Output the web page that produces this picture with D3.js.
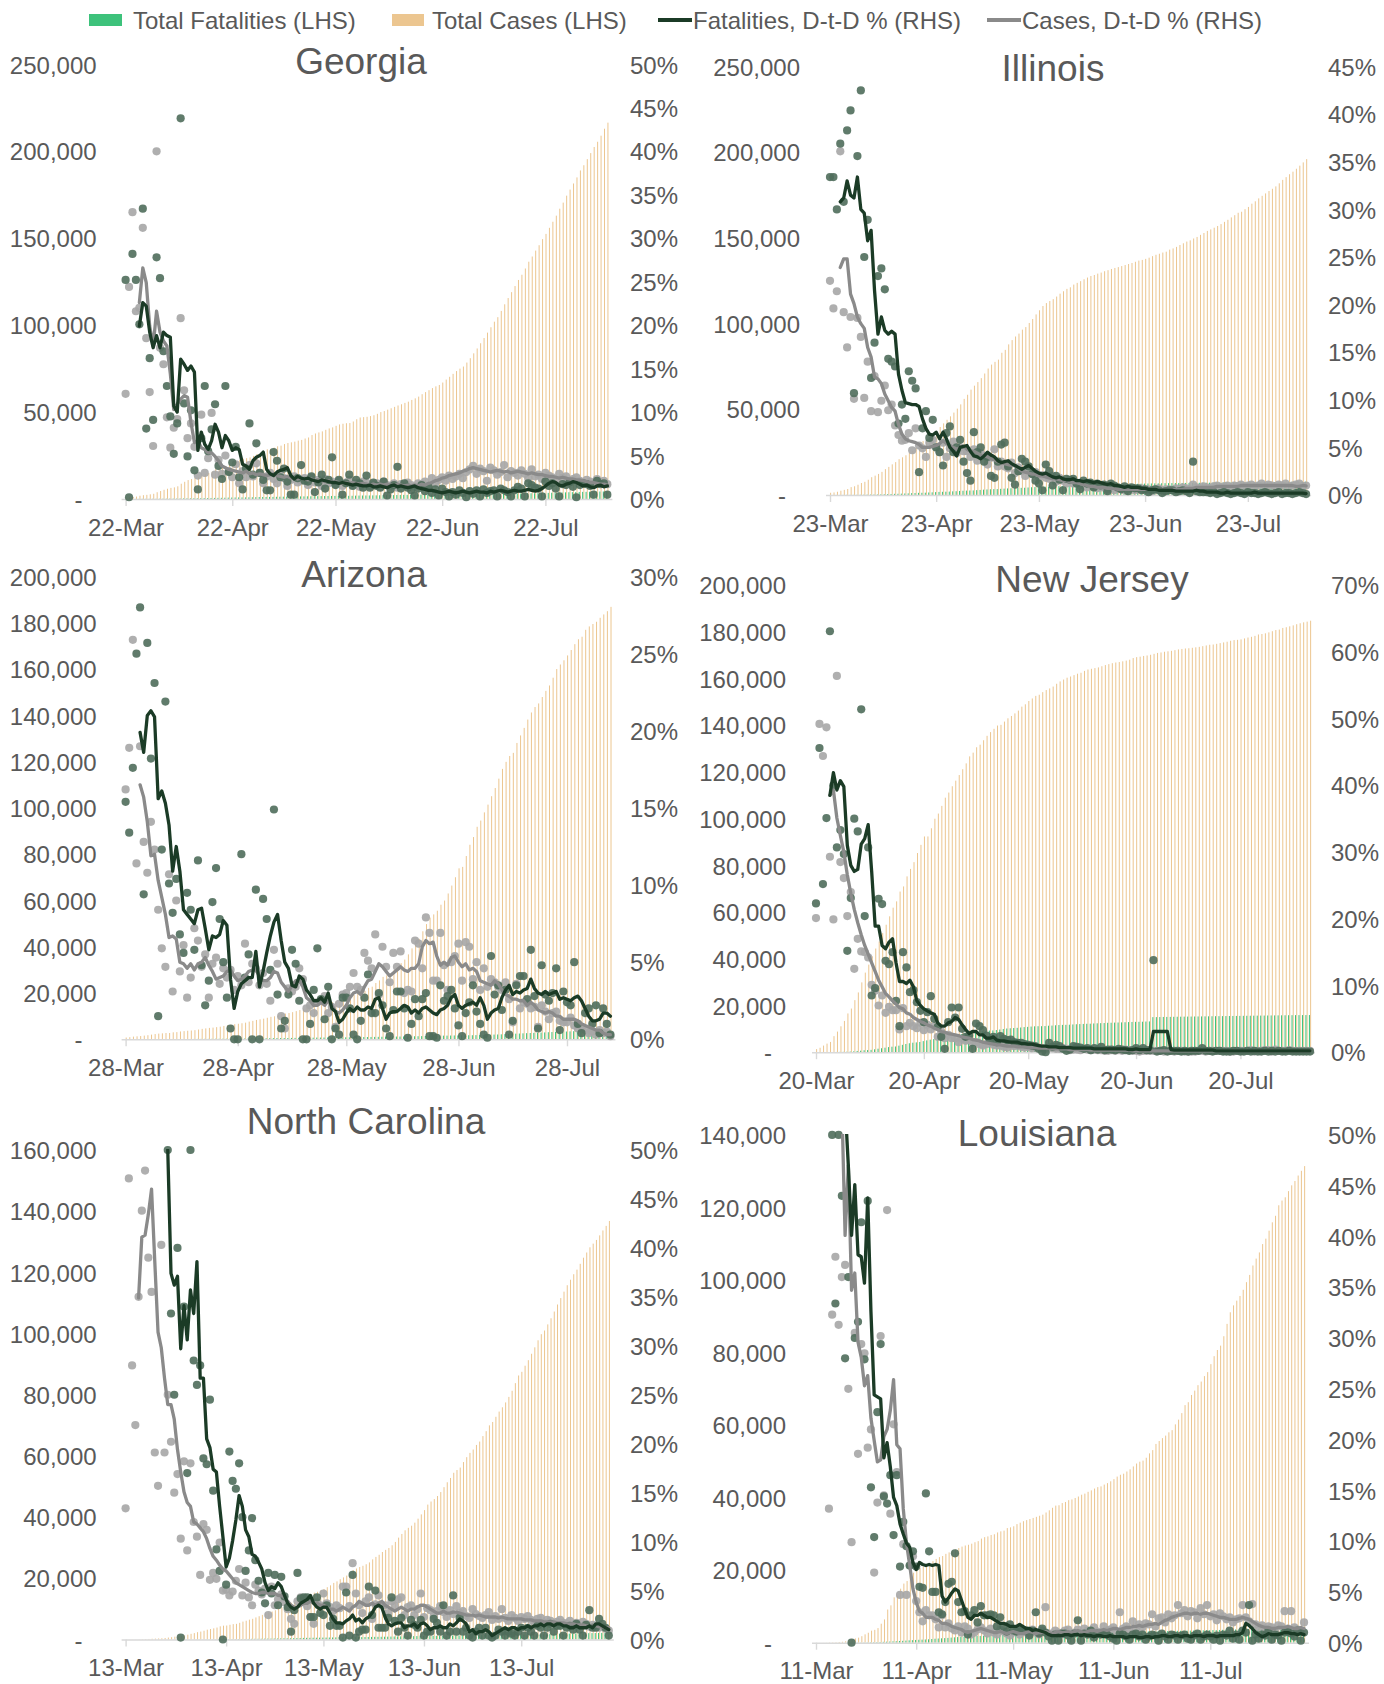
<!DOCTYPE html>
<html><head><meta charset="utf-8">
<script src="https://cdn.jsdelivr.net/npm/d3@7"></script>
<style>
body{margin:0;background:#fff;}
svg{display:block;}
</style></head>
<body><svg id="chart" width="1384" height="1684"></svg>
<script>
// ---------------- DATA ----------------
const STATES = ["Georgia","Illinois","Arizona","New Jersey","North Carolina","Louisiana"];
const START = ["2020-03-22","2020-03-23","2020-03-28","2020-03-20","2020-03-13","2020-03-11"];
const LEFT_TICKS = [
  [0,50000,100000,150000,200000,250000],
  [0,50000,100000,150000,200000,250000],
  [0,20000,40000,60000,80000,100000,120000,140000,160000,180000,200000],
  [0,20000,40000,60000,80000,100000,120000,140000,160000,180000,200000],
  [0,20000,40000,60000,80000,100000,120000,140000,160000],
  [0,20000,40000,60000,80000,100000,120000,140000]
];
const RIGHT_TICKS = [
  [0,5,10,15,20,25,30,35,40,45,50],
  [0,5,10,15,20,25,30,35,40,45],
  [0,5,10,15,20,25,30],
  [0,10,20,30,40,50,60,70],
  [0,5,10,15,20,25,30,35,40,45,50],
  [0,5,10,15,20,25,30,35,40,45,50]
];
const X_TICKS = [
  ["22-Mar","22-Apr","22-May","22-Jun","22-Jul"],
  ["23-Mar","23-Apr","23-May","23-Jun","23-Jul"],
  ["28-Mar","28-Apr","28-May","28-Jun","28-Jul"],
  ["20-Mar","20-Apr","20-May","20-Jun","20-Jul"],
  ["13-Mar","13-Apr","13-May","13-Jun","13-Jul"],
  ["11-Mar","11-Apr","11-May","11-Jun","11-Jul"]
];
const LEGEND = ["Total Fatalities (LHS)","Total Cases (LHS)","Fatalities, D-t-D % (RHS)","Cases, D-t-D % (RHS)"];

// Georgia (thousands / percent)
const gaCases = [0.8,1.0,1.2,1.4,1.9,2.2,2.4,2.7,3.0,3.9, 4.6,5.3,5.9,6.4,6.7,7.3,8.8,9.9,10.9,11.5, 12.2,12.5,13.3,14.2,15.0,15.7,17.2,17.8,18.3,19.0, 19.9,21.1,21.9,22.5,23.2,23.5,23.9,24.8,25.8,26.3, 27.6,28.6,28.8,29.6,30.3,30.7,31.6,32.2,32.6,33.0, 33.6,34.0,34.8,35.4,36.8,37.7,38.3,38.9,39.8,40.6, 41.2,42.1,42.9,43.3,43.6,43.7,44.6,45.9,46.9,47.1, 47.3,47.7,48.2,49.0,50.0,50.6,51.4,52.2,53.0,53.8, 54.5,55.3,56.0,57.0,57.9,58.9,60.3,61.5,62.6,63.8, 64.8,65.6,67.0,68.7,70.3,72.0,73.6,75.0,76.2,78.5, 81.0,83.8,86.6,89.6,92.6,95.7,98.8,102.0,104.6,108.2, 112.0,115.6,119.0,122.5,126.0,129.0,132.6,136.5,139.5,142.9, 146.0,149.5,152.5,156.0,159.5,163.0,167.0,170.5,174.5,178.0, 181.5,185.0,189.0,192.0,195.5,199.0,202.5,205.5,209.0,213.0, 216.5];
const gaDeaths = [0.03,0.03,0.04,0.05,0.06,0.08,0.08,0.09,0.10,0.11, 0.14,0.16,0.18,0.20,0.21,0.23,0.29,0.33,0.37,0.41, 0.43,0.45,0.47,0.52,0.56,0.59,0.62,0.66,0.68,0.73, 0.80,0.83,0.87,0.90,0.91,0.93,0.96,1.00,1.04,1.15, 1.16,1.18,1.19,1.21,1.26,1.31,1.33,1.38,1.40,1.41, 1.44,1.49,1.51,1.55,1.57,1.61,1.64,1.67,1.69,1.72, 1.75,1.78,1.80,1.81,1.82,1.83,1.85,1.93,1.97,2.01, 2.03,2.05,2.08,2.11,2.15,2.19,2.21,2.22,2.25,2.30, 2.34,2.37,2.40,2.43,2.45,2.48,2.50,2.52,2.55,2.58, 2.60,2.62,2.65,2.66,2.68,2.70,2.72,2.74,2.76,2.78, 2.80,2.81,2.83,2.86,2.87,2.89,2.91,2.93,2.95,2.99, 3.02,3.05,3.09,3.12,3.15,3.18,3.22,3.26,3.29,3.33, 3.37,3.42,3.48,3.53,3.60,3.67,3.72,3.78,3.84,3.90, 3.95,4.00,4.05,4.10,4.14,4.18,4.22,4.26,4.30,4.34, 4.38];
const gaFatPct = [25.2,0.2,28.2,25.2,20.1,33.4,8.1,16.2,9.1,27.8, 25.4,17.0,13.0,9.5,5.2,8.7,43.8,11.0,4.9,10.2, 3.3,1.1,7.0,13.0,5.5,8.0,10.9,3.8,2.3,13.0, 3.1,4.2,6.0,2.5,1.1,3.5,8.7,2.8,6.4,3.0, 2.2,1.0,1.0,5.4,4.4,2.5,3.5,2.0,0.5,0.5, 2.4,3.9,2.1,2.0,2.6,0.8,1.9,2.8,1.2,2.2, 4.8,1.6,2.2,0.5,1.8,2.8,1.5,2.2,1.8,1.3, 2.7,1.3,1.9,1.5,1.3,2.0,0.4,1.1,1.6,3.7, 1.2,1.8,1.3,1.0,0.4,1.2,1.6,0.9,1.4,0.7, 1.1,0.4,1.2,0.8,0.3,0.8,0.5,1.0,0.7,0.2, 0.9,0.6,1.0,0.3,1.1,0.7,0.9,1.0,0.3,1.2, 1.0,0.8,0.3,1.0,1.4,1.2,0.3,1.8,1.6,1.3, 1.2,0.3,2.0,1.5,1.8,1.2,0.3,1.7,1.6,1.9, 1.4,0.2,1.6,1.8,1.7,1.5,0.5,2.1,1.7,1.8, 0.5];
const gaCasePct = [12.1,24.4,33.0,21.6,22.0,31.2,18.5,12.3,6.1,40.0, 17.4,15.5,9.4,5.9,8.2,9.2,20.8,12.5,7.0,8.7, 6.0,2.7,9.7,3.0,4.7,9.9,2.8,4.5,2.9,5.0, 3.2,2.5,4.0,1.8,3.2,2.5,3.9,2.6,4.1,3.0, 1.8,2.6,3.0,2.3,1.8,2.8,2.4,1.5,2.2,2.6, 1.9,2.1,2.4,1.6,2.5,1.9,2.2,1.5,2.3,1.8, 2.0,1.7,2.1,1.5,1.9,2.2,1.6,1.8,1.4,2.0, 1.9,1.5,1.7,1.8,1.4,2.0,1.6,1.5,1.8,1.3, 1.7,1.5,1.9,1.6,1.4,1.8,1.7,2.0,1.5,2.4, 1.8,2.2,2.5,2.1,2.7,2.3,2.6,2.9,2.4,3.1, 3.4,3.8,2.9,3.5,3.2,2.1,3.6,3.3,2.8,3.1, 3.9,2.5,3.2,3.0,2.7,3.3,2.9,2.4,3.4,2.6, 2.8,2.3,3.0,2.7,2.5,2.2,2.9,2.4,2.6,2.0, 2.3,2.5,2.1,1.9,2.2,2.0,1.8,2.3,1.9,2.1, 1.7];
const gaFatAvg = [null,null,null,null, 19.9,22.6,22.2,19.2,17.4,18.8,17.4,19.2,18.8,18.6, 10.7,10.0,16.1,15.5,14.8,15.3,14.6,5.6,7.7,6.3, 5.7,6.7,8.6,7.7,5.9,7.3,6.7,5.6,5.9,5.7, 4.0,3.8,3.4,4.4,4.8,5.0,5.4,3.4,2.9,2.7, 3.1,3.3,3.4,3.6,2.7,2.3, 2.6,2.4,2.3,2.4,2.2,2.1,2.0,2.2,2.1,2.0, 1.9,1.9,1.8,1.9,1.8,1.7,1.6,1.7,1.6,1.5, 1.5,1.6,1.4,1.4,1.5,1.4,1.3,1.5,1.6,1.4, 1.5,1.4,1.3,1.4,1.5,1.3,1.2,1.1,1.0,1.0, 0.9,0.8,0.7,0.8,0.9,0.8,0.7,0.8,0.9,0.8, 0.7,0.8,0.9,0.8,0.8,0.7,0.9,0.8,0.9,1.0, 0.9,0.8,0.9,1.0,0.9,0.9,1.0,1.1,1.0,0.9, 1.0,1.2,1.5,1.8,2.0,1.9,1.6,1.5,1.7,1.8, 2.0,1.9,1.7,1.5,1.6,1.4,1.3,1.5,1.6,1.4,1.5];
const gaCaseAvg = [null,null,null,null, 22.6,26.6,24.9,19.9,17.6,21.6,19.2,18.2,17.6,14.4, 10.3,10.9,11.5,11.9,11.7,8.8,6.5,6.7,5.9,5.7, 5.3,5.3,4.9,4.4,3.8,3.6,3.4,3.3,3.2,3.1, 3.0,3.2,2.9,3.0,2.8,2.9,2.8,2.7,2.8,2.9, 2.7,2.6,2.5,2.6,2.4,2.5,2.3,2.4,2.3,2.2, 2.3,2.1,2.2,2.1,2.0,2.1,1.9,2.0,1.9,1.8, 1.9,1.8,1.9,1.8,1.7,1.8,1.7,1.6,1.7,1.6, 1.7,1.6,1.7,1.6,1.5,1.7,1.6,1.5,1.6,1.5, 1.6,1.5,1.7,1.6,1.8,1.9,2.1,2.2,2.4,2.5, 2.7,2.8,2.9,3.0,3.2,3.3,3.5,3.6,3.5,3.4, 3.3,3.2,3.1,3.2,3.3,3.2,3.1,3.2,3.0,3.1, 3.2,3.1,3.0,2.9,3.0,2.9,2.8,2.8,2.7,2.6, 2.6,2.5,2.4,2.5,2.4,2.3,2.3,2.2,2.2,2.1, 2.0,1.9,1.9,1.8,1.7,1.7,1.6];

// Illinois
const ilCases = [1.3,1.5,1.9,2.5,3.0,3.5,4.6,5.1,6.0,7.0, 7.7,8.9,10.4,11.3,12.3,13.5,15.1,16.4,17.9,19.2, 20.9,22.0,23.2,24.6,25.7,27.6,29.2,31.5,31.9,33.1, 35.1,36.9,39.7,41.8,43.9,45.9,48.1,50.4,52.9,56.1, 58.5,61.5,63.8,65.9,68.2,70.9,73.8,76.1,77.7,79.0, 83.0,84.7,87.9,90.4,92.5,94.2,96.5,98.0,100.4,102.7, 105.4,107.8,110.3,112.0,113.2,114.3,115.8,117.5,118.9,120.3, 121.2,122.8,123.8,124.8,125.9,126.9,127.8,128.4,129.2,129.8, 130.6,131.2,131.9,132.5,133.0,133.6,134.2,134.8,135.4,136.1, 136.8,137.2,137.8,138.5,139.4,140.2,140.8,141.5,142.0,143.2, 143.9,144.8,145.9,146.9,147.9,148.6,149.7,150.6,151.8,152.9, 154.1,155.0,156.0,157.0,158.1,159.4,160.6,162.0,163.3,164.7, 165.3,166.8,168.1,170.0,171.4,173.1,174.6,176.0,177.4,178.7, 180.1,181.9,183.9,185.5,187.2,188.7,190.4,192.2,194.1,196.0];
const ilDeaths = [0.01,0.02,0.03,0.03,0.05,0.07,0.07,0.07,0.10,0.14, 0.16,0.21,0.24,0.27,0.31,0.38,0.46,0.53,0.60,0.68, 0.72,0.79,0.87,0.95,1.07,1.13,1.26,1.29,1.35,1.47, 1.56,1.69,1.80,1.87,1.93,1.98,2.13,2.22,2.36,2.46, 2.56,2.62,2.66,2.84,2.97,3.11,3.24,3.35,3.41,3.46, 3.60,3.72,3.83,3.93,4.06,4.13,4.18,4.23,4.38,4.53, 4.61,4.72,4.79,4.86,4.88,4.92,5.08,5.19,5.27,5.33, 5.39,5.41,5.53,5.62,5.74,5.77,5.80,5.83,5.86,5.90, 6.05,6.08,6.20,6.26,6.29,6.32,6.33,6.37,6.40,6.45, 6.55,6.61,6.65,6.70,6.74,6.78,6.81,6.86,6.89,6.92, 6.95,6.99,7.02,7.03,7.05,7.06,7.09,7.12,7.13,7.16, 7.18,7.19,7.20,7.22,7.25,7.27,7.29,7.30,7.33,7.35, 7.37,7.39,7.42,7.44,7.46,7.48,7.50,7.52,7.53,7.55, 7.56,7.58,7.60,7.62,7.63,7.65,7.67,7.69,7.71,7.73];
const ilFatPct = [33.4,33.4,30.0,36.9,30.8,38.3,40.4,10.7,35.6,42.5, 25.0,28.9,12.3,16.0,23.0,23.8,21.6,14.3,14.0,13.5, 7.5,9.5,8.0,13.0,12.0,11.2,2.4,7.0,8.8,6.0, 7.9,5.0,4.5,3.1,6.5,7.2,4.5,5.0,5.8,3.5, 2.3,1.5,6.6,4.5,5.0,3.5,4.0,2.0,1.8,3.5, 5.3,5.5,3.0,1.8,1.1,2.5,3.8,3.5,3.0,2.2, 1.5,1.2,0.5,3.2,2.5,1.0,2.0,1.6,0.5,1.7, 1.6,1.7,1.2,0.6,1.5,1.2,1.3,0.8,1.2,1.0, 1.1,0.4,1.2,1.0,0.8,0.6,0.9,0.4,0.8,0.7, 0.7,0.5,0.6,0.3,0.5,0.6,0.5,0.2,0.4,0.5, 0.5,0.3,0.4,0.5,0.4,0.2,3.5,0.4,0.3,0.3, 0.3,0.2,0.3,0.1,0.2,0.3,0.2,0.1,0.2,0.3, 0.2,0.1,0.3,0.2,0.2,0.1,0.2,0.3,0.2,0.1, 0.2,0.3,0.1,0.2,0.2,0.1,0.2,0.3,0.2,0.1];
const ilCasePct = [22.5,19.6,21.4,36.1,19.2,15.5,18.7,10.1,18.6,16.6, 10.2,14.0,8.8,12.5,8.7,9.9,11.5,8.9,9.5,7.3, 6.3,5.7,5.8,6.5,4.7,7.0,5.2,4.9,4.0,5.5, 5.8,5.0,4.5,5.5,4.0,4.9,5.6,4.4,5.0,4.6, 4.6,4.0,4.8,3.6,4.4,4.1,3.2,3.9,4.8,3.0, 3.5,3.0,2.8,3.4,2.3,2.9,2.5,2.0,2.7,2.2, 2.4,1.9,2.1,1.8,1.7,2.0,1.4,1.8,1.5,1.2, 1.5,1.2,1.3,1.0,1.2,0.8,1.0,0.9,0.7,0.8, 0.8,0.6,0.7,0.5,0.7,0.6,0.5,0.7,0.6,0.5, 0.6,0.7,0.5,0.6,0.4,0.6,0.7,0.5,0.6,0.6, 0.5,0.7,0.6,0.8,0.7,0.6,1.1,0.8,0.7,0.9, 0.8,0.7,0.9,1.0,0.8,0.9,1.0,0.8,1.0,0.9, 1.1,0.9,1.0,1.1,0.9,1.0,1.2,0.9,1.1,1.0, 0.9,1.1,1.0,1.2,0.9,1.0,1.1,1.2,0.9,1.0];
const ilFatAvg = [null,null,null, 30.8,31.2,33.0,31.5,31.2,33.4,30.0,29.6, 26.7,27.8,21.5,16.9,18.7,17.3,16.9,17.2,16.9,12.7, 11.0,9.7,9.6,9.5,9.5,9.3,8.0,7.0,6.4,6.3, 6.6,5.9,6.6,5.9,5.0,4.6,4.1,5.0,5.1,5.2, 4.6,4.1,4.0,3.8,4.1,4.5,4.2,4.0,3.6,3.4, 3.5,3.6,3.3,3.1,2.9,2.7,2.9,3.1,2.8,2.5, 2.3,2.2,2.3,2.1,1.9,1.8,1.9,1.7,1.6,1.6, 1.7,1.5,1.5,1.4,1.5,1.4,1.3,1.4,1.3,1.2, 1.1,1.2,1.0,1.0,0.9,0.8,0.9,0.8,0.8,0.8, 0.7,0.7,0.6,0.6,0.6,0.5,0.5,0.5,0.5,0.5, 0.4,0.4,0.4,0.4,0.4,0.4,0.5,0.4,0.4,0.3, 0.3,0.3,0.3,0.2,0.2,0.3,0.2,0.2,0.2,0.2, 0.2,0.2,0.2,0.3,0.2,0.2,0.2,0.2,0.2,0.2, 0.2,0.2,0.2,0.2,0.2,0.2,0.2,0.2,0.15];
const ilCaseAvg = [null,null,null, 23.9,24.8,24.8,21.1,20.1,18.7,18.0,17.5, 15.5,14.5,12.4,12.2,11.7,10.6,9.9,9.2,8.8,7.4, 6.4,5.9,5.7,5.6,5.5,5.3,5.0,5.0,5.0,5.1, 5.2,5.4,5.7,5.4,5.2,5.0,4.8,5.0,5.1,4.8, 4.6,4.6,4.4,4.2,4.1,4.0,3.8,3.7,3.5,3.4, 3.3,3.2,3.1,3.1,2.8,2.5,2.4,2.3,2.2,2.2, 2.0,2.0,1.9,1.8,1.7,1.7,1.6,1.5,1.5,1.4, 1.3,1.3,1.2,1.1,1.0,0.9,0.9,0.8,0.8,0.8, 0.7,0.7,0.7,0.6,0.6,0.6,0.6,0.6,0.6,0.6, 0.6,0.6,0.6,0.6,0.6,0.6,0.6,0.6,0.6,0.6, 0.6,0.6,0.6,0.7,0.7,0.7,0.8,0.8,0.8,0.8, 0.8,0.8,0.9,0.9,0.9,0.9,0.9,0.9,0.9,1.0, 1.0,1.0,1.0,1.0,1.0,1.0,1.0,1.0,1.0,1.0, 1.0,1.0,1.0,1.0,1.0,0.9,0.9,1.0,0.95];

// Arizona
const azCases = [0.77,0.92,1.16,1.29,1.41,1.60,1.77,2.02,2.27,2.46, 2.58,2.73,2.73,3.02,3.11,3.39,3.54,3.70,3.81,3.96, 4.23,4.51,4.72,4.93,5.06,5.26,5.46,5.77,6.05,6.28, 6.53,6.72,6.95,7.20,7.65,7.96,8.36,8.64,8.92,9.31, 9.71,9.95,10.53,10.96,11.12,11.38,11.74,12.18,12.67,13.17, 13.63,13.94,14.18,14.57,14.90,15.32,15.62,16.04,16.34,16.56, 17.26,17.76,18.47,19.26,19.94,20.12,20.94,22.22,22.75,24.33, 25.45,26.99,27.68,28.30,29.85,31.26,32.92,34.46,36.71,39.30, 40.92,43.44,46.69,49.80,52.59,53.99,55.58,58.18,59.97,63.03, 66.46,70.05,73.91,74.53,79.22,84.09,87.43,91.86,94.55,98.09, 101.44,105.09,108.61,112.67,116.89,119.93,122.47,123.82,128.10,131.35, 134.61,138.21,141.27,143.62,145.18,147.95,150.61,152.94,156.30,160.04, 162.01,163.83,165.93,168.27,170.80,172.92,174.01,177.00,178.47,179.50, 180.48,182.20,183.65,185.05,186.92];
const azDeaths = [0.015,0.017,0.020,0.024,0.029,0.033,0.041,0.052,0.065,0.065, 0.073,0.080,0.089,0.097,0.108,0.115,0.122,0.131,0.142,0.150, 0.169,0.180,0.184,0.189,0.208,0.229,0.231,0.231,0.266,0.273, 0.275,0.275,0.304,0.320,0.330,0.348,0.362,0.395,0.426,0.450, 0.480,0.517,0.532,0.536,0.542,0.562,0.594,0.624,0.651,0.662, 0.679,0.686,0.704,0.747,0.763,0.775,0.800,0.807,0.808,0.821, 0.834,0.859,0.891,0.900,0.917,0.941,0.981,0.996,1.012,1.042, 1.070,1.095,1.101,1.117,1.144,1.186,1.194,1.219,1.242,1.271, 1.312,1.339,1.384,1.424,1.463,1.486,1.490,1.535,1.579,1.594, 1.631,1.670,1.688,1.720,1.720,1.753,1.767,1.809,1.825,1.855, 1.927,1.963,2.038,2.082,2.151,2.245,2.337,2.382,2.434,2.492, 2.575,2.654,2.730,2.784,2.837,2.918,2.974,3.063,3.142,3.209, 3.304,3.306,3.365,3.428,3.499,3.551,3.626,3.694,3.765,3.845, 3.932,3.979,4.002,4.081,4.150];
const azFatPct = [15.4,13.4,17.6,25.0,28.0,9.4,25.7,18.2,23.1,1.5, 12.3,21.9,10.1,8.2,10.4,6.8,5.6,9.5,8.4,5.8, 11.6,4.8,2.2,3.8,8.9,11.1,7.8,5.0,2.7,0.7, 0.0,0.0,12.0,4.0,5.5,0.0,9.7,0.0,9.1,7.8, 4.5,14.9,2.9,0.7,1.2,2.9,5.8,4.9,2.5,0.0, 0.0,1.0,3.2,5.9,2.6,1.3,3.4,0.0,0.7,0.3, 2.7,2.7,2.0,0.3,0.0,1.2,2.7,4.2,1.7,1.7, 3.0,2.2,0.7,0.2,1.9,3.1,3.1,2.0,0.1,1.0, 2.6,1.5,2.6,3.0,0.2,0.2,0.1,3.5,2.5,2.8, 3.2,2.0,0.9,0.2,1.7,2.4,3.5,1.8,1.0,0.3, 0.1,5.4,2.9,3.5,1.9,3.2,0.3,1.2,3.5,4.1, 4.1,2.6,5.8,2.8,0.7,4.8,2.9,2.5,3.0,4.6, 0.6,3.1,2.4,2.2,5.0,1.0,0.4,1.7,2.0,1.0, 2.2,0.4,2.0,1.0,0.3];
const azCasePct = [16.2,18.9,25.9,11.4,19.0,12.8,10.8,14.1,12.3,8.4, 5.9,4.7,10.7,3.1,9.0,4.4,6.1,2.7,4.0,7.2, 6.4,4.7,5.5,2.7,4.9,5.3,3.6,4.6,4.0,4.5, 3.2,4.1,3.5,6.2,3.7,4.9,4.6,3.5,4.3,3.6, 2.5,5.8,4.9,1.5,0.7,3.3,3.1,3.4,4.6,3.9, 2.0,2.2,1.7,2.4,2.5,2.8,1.7,2.1,0.8,2.3, 2.9,3.0,3.4,4.3,3.4,3.2,5.6,5.1,4.6,6.8, 2.9,6.0,4.7,3.7,5.6,4.7,5.7,3.0,3.2,3.1, 6.4,6.2,4.6,7.9,6.9,3.8,3.8,6.9,4.8,3.2, 5.0,5.4,6.2,3.8,6.3,6.0,3.9,5.0,3.2,4.6, 3.4,3.9,3.7,3.4,3.2,3.7,2.6,1.1,3.6,2.0, 2.4,2.3,2.0,2.1,0.8,2.2,1.8,1.3,1.7,1.8, 1.2,1.1,1.1,1.4,0.9,0.7,0.8,0.6,0.4,0.5, 0.3,0.6,0.4,0.5,0.2];
const azFatAvg = [null,null,null,null, 19.9,18.6,21.0,21.3,20.9,15.6,16.1,15.3,13.9,10.9, 12.5,10.9,8.4,8.1,7.8,7.5,8.4,8.5,7.2,5.8, 6.7,6.6,6.8,7.7,7.4,3.9,2.0,3.1,3.6,3.8, 4.0,4.0,5.7,3.4,4.4,5.6,6.7,7.6,8.1,6.4, 5.0,4.6,3.5,3.4,4.1,3.9,3.2,2.9,2.5,2.5, 2.7,2.4,3.0,2.0,1.8,1.1,1.3,1.7,2.0,1.8, 2.1,1.9,1.9,2.1,2.0,2.6,2.7,2.0,1.3,1.7, 1.8,1.8,2.0,2.2,2.1,1.7,1.9,1.7,2.0,2.1, 1.9,1.7,1.6,1.9,2.0,2.2,2.7,2.9,2.2,2.0, 2.2,2.3,2.4,2.2,2.7,2.2,1.3,1.7,1.9,2.0, 2.7,3.2,3.5,2.9,3.1,3.0,3.2,3.3,3.9,3.3, 3.0,2.9,3.1,2.9,3.0,3.1,2.6,2.7,2.6,2.5, 2.7,2.8,2.5,2.0,1.5,1.2,1.2,1.3,1.7,1.7, 1.5];
const azCaseAvg = [null,null,null,null, 16.5,15.7,14.1,11.9,12.0,10.3,9.2,8.1,6.6,6.7, 6.5,5.0,4.9,4.6,4.9,4.5,4.9,5.0,5.3,4.8, 4.4,3.9,4.0,4.1,4.4,4.5,4.1,3.8,3.9,4.1, 4.4,4.5,4.5,4.1,3.8,3.8,4.0,4.4,4.3,3.7, 3.4,3.1,3.5,3.8,3.8,3.4,2.7,2.5,2.2,2.2, 2.4,2.2,2.5,2.2,1.8,1.7,1.9,2.2,2.7,3.0, 3.1,2.9,3.4,3.8,3.9,4.4,4.9,4.7,4.4,4.1, 4.3,4.5,4.7,4.5,4.4,4.6,4.6,4.9,6.0,6.4, 6.2,6.3,5.4,4.8,5.0,4.8,5.3,5.4,5.0,4.7, 4.9,4.5,4.6,4.4,3.8,3.7,3.6,3.5,3.8,3.6, 3.2,2.9,2.8,2.6,2.6,2.5,2.5,2.2,2.4,2.2, 1.9,1.8,1.7,1.8,1.7,1.5,1.5,1.3,1.3,1.3, 1.3,1.2,1.0,0.9,0.8,0.7,0.6,0.6,0.4,0.3, 0.3];

// New Jersey
const njCases = [1.33,1.91,2.84,3.68,4.40,6.88,8.83,11.1,13.4,16.6, 18.7,22.3,25.6,29.9,34.1,37.5,41.1,44.4,47.4,51.0, 54.6,58.2,61.9,64.6,68.8,71.0,75.3,78.5,81.4,85.3, 88.8,92.4,92.4,95.9,100.0,102.2,105.5,109.0,111.2,113.9, 116.3,118.7,121.2,123.7,126.7,128.3,130.6,131.7,133.6,135.5, 137.1,138.5,139.9,140.2,141.6,143.0,144.0,145.1,146.3,148.0, 149.0,150.4,151.5,152.6,153.1,154.2,155.1,155.8,156.6,157.8, 158.8,159.6,160.4,160.9,161.5,162.1,162.5,163.3,163.9,164.2, 164.5,164.8,165.3,165.8,166.2,166.6,166.9,167.1,167.4,167.7, 168.1,168.8,169.2,169.4,169.7,169.9,170.2,170.6,171.0,171.2, 171.5,171.7,171.9,172.2,172.5,172.7,172.9,173.0,173.2,173.4, 173.6,173.9,174.2,174.5,174.6,174.9,175.2,175.5,175.8,176.2, 176.5,176.6,176.8,177.2,177.6,177.9,178.3,178.9,179.1,179.4, 179.8,180.3,180.8,181.0,181.7,182.0,182.4,182.8,183.3,183.7, 184.1,184.4,184.8];
const njDeaths = [0.016,0.020,0.027,0.044,0.062,0.081,0.108,0.140,0.161,0.198, 0.267,0.355,0.537,0.646,0.846,0.917,1.003,1.232,1.504,1.700, 1.932,2.183,2.350,2.443,2.805,3.156,3.518,3.840,4.070,4.202, 4.377,4.753,5.063,5.368,5.617,5.863,6.044,6.087,6.442,6.770, 7.228,7.538,7.742,7.871,7.910,8.244,8.549,8.801,8.952,9.116, 9.255,9.310,9.508,9.702,9.946,10.138,10.249,10.356,10.435,10.586, 10.747,10.843,10.985,11.081,11.133,11.144,11.191,11.339,11.401,11.531, 11.634,11.698,11.721,11.770,11.880,11.970,12.049,12.106,12.176,12.214, 12.303,12.377,12.443,12.489,12.592,12.625,12.676,12.727,12.769,12.835, 12.895,12.949,12.995,13.018,13.060,13.138,13.181,15.010,15.030,15.060, 15.100,15.110,15.130,15.160,15.180,15.210,15.230,15.250,15.270,15.290, 15.310,15.330,15.350,15.370,15.400,15.420,15.440,15.460,15.480,15.500, 15.520,15.540,15.560,15.580,15.600,15.620,15.640,15.660,15.680,15.700, 15.720,15.740,15.760,15.780,15.800,15.820,15.840,15.860,15.880,15.890, 15.900,15.910,15.920];
const njFatPct = [22.3,45.6,25.2,35.1,63.1,40.0,30.7,33.3,29.7,15.2, 23.1,35.0,33.1,51.4,20.4,30.7,8.5,9.6,23.0,22.2, 13.7,13.2,15.0,7.7,3.9,15.0,12.7,9.0,9.3,7.5, 6.2,4.5,6.0,8.4,5.0,3.8,2.3,0.5,4.5,6.7, 5.2,6.7,3.5,2.3,2.5,0.5,4.3,3.9,3.3,2.5, 1.8,2.3,1.5,2.4,2.0,1.8,1.9,1.5,1.4,1.4, 1.2,1.1,1.0,0.9,0.5,0.1,0.0,1.4,0.8,1.1, 0.9,0.5,0.2,0.4,0.9,0.8,0.7,0.5,0.6,0.3, 0.6,0.4,0.8,0.3,0.4,0.4,0.3,0.5,0.4,0.3, 0.2,0.3,0.6,0.3,0.6,0.3,0.3,13.8,0.1,0.2, 0.3,0.1,0.2,0.2,0.2,0.1,0.2,0.1,0.2,0.2, 0.2,0.6,0.2,0.2,0.1,0.2,0.2,0.1,0.1,0.1, 0.2,0.2,0.1,0.1,0.2,0.1,0.2,0.1,0.1,0.2, 0.1,0.2,0.1,0.2,0.1,0.1,0.2,0.1,0.1,0.1, 0.1,0.1,0.1];
const njCasePct = [20.1,49.2,44.4,48.7,29.3,19.9,56.4,28.5,26.1,20.4, 24.0,12.5,17.0,15.1,15.0,14.2,10.1,9.2,7.0,8.5, 5.9,6.8,6.3,6.3,3.4,6.6,3.9,4.4,3.9,3.6, 4.4,3.3,4.1,3.4,3.9,2.3,3.1,2.1,2.6,2.1, 2.1,1.5,2.0,1.7,1.8,1.5,1.5,1.2,1.0,1.2, 1.4,1.1,1.0,1.0,0.8,0.7,1.0,0.9,1.0,0.8, 0.7,0.8,0.6,0.7,0.7,0.6,0.5,0.7,0.6,0.5, 0.5,0.6,0.5,0.3,0.4,0.4,0.3,0.5,0.4,0.3, 0.4,0.3,0.3,0.2,0.2,0.3,0.2,0.3,0.2,0.4, 0.3,0.2,0.2,0.1,0.2,0.2,0.2,0.2,0.2,0.2, 0.1,0.2,0.2,0.1,0.2,0.2,0.1,0.1,0.1,0.1, 0.2,0.2,0.1,0.2,0.2,0.2,0.2,0.2,0.2,0.1, 0.1,0.2,0.2,0.2,0.2,0.3,0.1,0.2,0.2,0.3, 0.3,0.1,0.4,0.2,0.2,0.2,0.3,0.2,0.2,0.2, 0.2,0.2,0.2];
const njFatAvg = [null,null,null,null, 38.5,41.9,39.3,40.7,39.8,31.0,28.0,27.1,27.4,31.2, 32.0,34.1,27.1,18.9,18.9,16.0,15.5,16.5,17.0,13.4, 10.6,10.6,10.3,10.8,9.8,7.7,7.0,6.5,6.2,5.9, 5.7,4.4,3.9,3.9,4.4,4.6,5.2,4.9,4.1,3.4, 2.8,3.1,3.1,2.6,2.6,2.1,2.1,2.3,1.8,1.7, 1.7,1.6,1.5,1.5,1.5,1.3,1.3,1.2,1.2,1.1, 1.0,0.9,0.9,0.8,0.8,0.8,0.7,0.7,0.7,0.7, 0.6,0.6,0.6,0.6,0.6,0.6,0.5,0.5,0.5,0.5, 0.5,0.5,0.5,0.5,0.5,0.5,0.4,0.4,0.5,0.4, 0.4,0.4,0.4,3.1,3.1,3.1,3.1,3.1,0.4,0.3, 0.3,0.3,0.3,0.3,0.3,0.3,0.3,0.3,0.3,0.3, 0.3,0.2,0.2,0.2,0.2,0.2,0.2,0.2,0.2,0.2, 0.2,0.2,0.2,0.2,0.2,0.2,0.2,0.2,0.2,0.2, 0.2,0.2,0.2,0.2,0.2,0.2,0.2,0.2,0.2];
const njCaseAvg = [null,null,null,null, 38.5,39.3,35.1,32.5,30.0,26.6,23.8,21.4,19.4,17.6, 16.0,14.7,13.4,12.1,10.8,9.8,8.8,8.3,7.7,7.2, 6.7,6.5,5.9,5.7,5.2,4.9,4.6,4.4,4.1,3.9, 3.6,3.4,3.1,3.0,2.8,2.7,2.6,2.5,2.3,2.2, 2.1,1.9,1.8,1.7,1.5,1.4,1.3,1.2,1.1,1.1, 1.0,0.9,0.9,0.9,0.8,0.8,0.8,0.7,0.7,0.7, 0.6,0.6,0.6,0.6,0.5,0.5,0.5,0.5,0.5,0.4, 0.4,0.4,0.4,0.4,0.4,0.3,0.3,0.3,0.3,0.3, 0.3,0.3,0.3,0.3,0.3,0.3,0.3,0.2,0.2,0.2, 0.2,0.2,0.2,0.2,0.2,0.2,0.2,0.2,0.2,0.2, 0.2,0.2,0.2,0.2,0.2,0.2,0.2,0.2,0.2,0.2, 0.2,0.2,0.2,0.2,0.2,0.2,0.2,0.2,0.2,0.2, 0.2,0.2,0.2,0.2,0.2,0.2,0.2,0.2,0.2,0.2, 0.2,0.2,0.2,0.2,0.2,0.2,0.2,0.2,0.2];

// North Carolina
const ncCases = [0.02,0.03,0.03,0.04,0.06,0.09,0.14,0.18,0.25,0.30, 0.35,0.40,0.50,0.64,0.76,0.94,1.04,1.17,1.31,1.58, 1.86,2.09,2.40,2.59,2.87,3.22,3.43,3.65,3.91,4.31, 4.52,4.57,4.82,5.02,5.12,5.46,5.86,6.14,6.49,6.76, 7.22,7.61,8.05,8.62,8.83,9.14,9.57,10.0,10.5,11.1, 11.6,12.0,12.3,12.8,13.4,13.9,14.4,14.8,15.3,15.6, 16.0,16.5,17.1,17.7,18.5,19.0,19.7,20.3,20.9,21.6, 22.7,23.2,23.7,24.1,24.6,25.2,26.2,27.0,27.7,28.6, 29.3,29.9,30.8,31.9,33.3,34.5,35.7,36.5,37.2,38.2, 39.5,40.9,42.3,44.1,45.1,45.9,46.9,48.2,49.8,51.4, 52.8,54.5,55.4,56.2,58.0,59.6,61.0,62.1,63.6,64.7, 66.5,68.1,70.0,71.1,72.8,74.5,75.9,77.5,79.3,81.3, 83.8,86.3,87.5,89.5,91.3,93.4,95.5,97.8,99.8,101.0, 103.0,105.0,107.2,109.5,111.6,113.7,115.8,117.6,119.4,120.9, 122.8,124.8,126.5,128.2,129.4,130.6,132.1,133.7,135.2,136.8];
const ncDeaths = [0,0,0,0,0,0,0,0,0,0, 0.001,0.001,0.001,0.002,0.003,0.004,0.004,0.006,0.008,0.010, 0.013,0.016,0.022,0.029,0.033,0.040,0.045,0.051,0.063,0.074, 0.080,0.087,0.094,0.108,0.117,0.135,0.151,0.175,0.186,0.207, 0.222,0.234,0.249,0.260,0.286,0.300,0.318,0.333,0.363,0.398, 0.406,0.419,0.433,0.460,0.497,0.523,0.542,0.560,0.579,0.586, 0.601,0.620,0.634,0.651,0.661,0.691,0.703,0.716,0.728,0.747, 0.770,0.778,0.785,0.793,0.807,0.833,0.844,0.863,0.875,0.892, 0.907,0.921,0.950,0.983,1.000,1.016,1.033,1.044,1.074,1.095, 1.118,1.133,1.146,1.158,1.172,1.197,1.212,1.231,1.250,1.277, 1.284,1.290,1.316,1.325,1.343,1.373,1.392,1.398,1.401,1.408, 1.420,1.431,1.448,1.464,1.478,1.489,1.500,1.507,1.522,1.536, 1.555,1.566,1.579,1.603,1.622,1.643,1.659,1.677,1.698,1.719, 1.740,1.765,1.790,1.820,1.843,1.868,1.895,1.918,1.940,1.966, 1.990,2.011,2.046,2.076,2.093,2.113,2.141,2.158,2.170,2.185];
const ncFatPct = [null,null,null,null,null,null,null,null,null,null, null,null,null,50.0,33.3,25.0,40.0,0.2,34.0,17.0, 50.0,28.5,26.0,28.0,18.5,17.9,24.5,15.2,9.2,7.0, 0.0,5.6,19.2,16.2,15.4,18.0,12.5,7.0,9.1,12.4, 8.1,6.0,4.8,3.7,6.8,4.7,6.6,3.5,6.4,4.4, 3.3,0.8,3.0,6.8,4.2,4.3,4.3,2.3,2.3,4.3, 2.7,2.5,3.5,1.4,2.1,1.4,1.4,0.2,4.8,0.4, 6.6,0.2,0.8,1.0,1.0,5.4,2.5,5.0,1.2,1.2, 1.2,2.2,4.3,1.9,0.8,2.2,1.2,0.4,2.0,1.5, 1.2,2.0,0.4,0.8,0.8,2.1,1.7,0.8,3.5,0.4, 0.8,4.5,0.8,2.2,0.8,1.2,0.4,0.2,0.8,1.2, 0.4,1.2,0.4,0.2,0.4,1.0,0.8,0.4,0.8,0.6, 0.4,0.8,1.2,0.4,1.2,0.8,0.4,1.4,1.2,0.4, 1.2,1.6,0.8,1.4,1.4,0.4,1.2,1.4,1.0,1.6, 1.0,0.4,1.5,3.0,1.2,1.2,2.1,1.6,1.2,0.4];
const ncCasePct = [13.4,47.1,28.0,21.9,35.0,43.8,47.9,39.0,35.5,19.1, 15.7,40.3,19.1,25.0,20.2,15.0,16.9,10.3,18.2,9.1, 18.0,12.0,10.5,6.6,11.8,11.2,6.1,6.8,6.2,9.9, 5.0,5.1,4.5,4.9,6.0,7.2,4.5,5.8,4.3,3.5, 5.6,5.0,4.6,5.2,2.5,5.4,3.5,4.1,4.6,3.8, 3.1,2.1,1.6,3.9,4.3,4.1,3.4,2.3,1.6,3.8, 3.5,4.7,3.7,3.3,2.9,3.5,3.2,5.4,5.4,3.4, 7.8,4.7,3.5,2.7,3.9,4.3,2.1,3.6,4.5,3.5, 3.5,2.7,3.9,3.4,4.1,4.3,2.5,3.3,3.5,2.5, 3.1,4.7,2.3,3.2,3.0,2.4,2.9,3.4,2.8,2.3, 3.0,2.6,3.4,2.7,2.9,2.4,2.2,3.1,2.6,2.4, 2.2,2.5,2.8,2.0,2.4,2.1,3.1,2.2,1.9,2.5, 2.2,1.9,2.3,2.1,2.4,2.0,1.8,2.1,2.2,1.7, 2.0,1.9,1.6,1.8,2.0,1.7,1.6,1.9,1.5,1.7, 1.4,1.8,1.6,1.3,1.5,1.4,1.2,1.3,1.1,0.9];
const ncFatAvg = [null,null,null,null,null,null,null,null,null,null, null,null,null,50.0,37.4,36.2,37.1,29.7,34.1,30.6, 35.7,33.3,38.6,26.7,26.7,20.5,19.6,17.4,17.1,13.6, 10.5,7.4,8.3,10.1,12.2,14.7,13.6,11.2,10.5,8.7, 8.5,7.9,7.2,5.8,5.0,5.4,5.2,5.8,5.4,4.5, 3.7,3.3,3.1,3.3,3.7,3.9,4.1,4.5,3.7,3.3, 3.1,3.3,3.3,2.7,2.1,1.7,1.7,1.6,1.9,2.1, 2.5,1.9,2.1,1.7,2.1,2.3,2.7,3.3,3.5,3.3, 2.3,1.6,1.4,1.6,1.7,1.7,1.2,1.4,1.4,1.6, 1.2,1.6,1.7,1.4,1.0,1.2,1.2,1.4,1.2,1.2, 1.6,1.4,1.7,2.1,1.9,1.6,0.8,1.0,0.6,0.8, 0.8,1.0,0.8,0.4,0.6,0.8,1.0,1.2,1.0,1.2, 1.2,1.0,1.2,1.2,1.4,1.2,1.4,1.4,1.6,1.4, 1.6,1.6,1.4,1.6,1.6,1.4,1.4,1.2,1.2,1.4, 1.2,1.2,1.2,1.4,1.2,1.6,1.6,1.4,1.2,1.0];
const ncCaseAvg = [null,null,null,null,34.9,41.1,41.3,43.4,46.0,38.6, 31.4,29.8,26.7,24.0,24.0,22.5,19.4,17.1,15.1,14.0, 13.6,12.0,11.8,11.4,11.0,10.3,9.3,8.5,8.1,7.6, 7.2,7.0,6.6,6.2,5.8,5.6,5.4,5.2,5.0,4.8, 4.7,4.7,4.8,4.8,4.7,4.7,4.7,4.5,4.5,4.3, 3.9,3.5,3.3,3.3,3.5,3.7,3.7,3.9,3.7,3.7, 3.5,3.5,3.3,3.1,3.1,2.9,3.1,3.3,3.1,2.9, 3.3,3.5,3.9,3.7,3.5,3.5,3.7,3.5,3.7,3.9, 3.5,3.3,3.1,2.9,3.1,3.3,3.1,2.9,3.1,3.1, 3.3,3.5,3.5,3.3,3.1,2.9,2.7,2.7,2.9,2.7, 2.7,2.8,2.8,2.7,2.6,2.5,2.5,2.5,2.4,2.5, 2.4,2.3,2.3,2.3,2.3,2.2,2.3,2.2,2.1,2.1, 2.1,2.1,2.1,2.0,2.0,2.0,1.9,1.9,1.9,1.8, 1.8,1.8,1.8,1.7,1.7,1.7,1.6,1.6,1.6,1.5, 1.5,1.5,1.4,1.4,1.4,1.4,1.3,1.3,1.2,1.2];

// Louisiana
const laCases = [0.006,0.014,0.019,0.036,0.077,0.103,0.136,0.196,0.257,0.392, 0.585,0.837,1.17,1.39,1.80,2.31,2.75,3.32,3.54,4.03, 5.24,6.42,9.15,10.3,12.5,13.0,14.9,16.3,17.0,18.3, 19.3,20.0,20.6,21.0,21.5,21.5,22.5,23.1,23.6,23.9, 24.5,24.9,25.3,25.7,26.1,26.5,26.8,27.0,27.3,27.7, 28.0,28.7,29.1,29.3,29.7,29.9,30.4,30.7,30.9,31.6, 31.8,32.1,32.7,33.1,33.5,33.8,34.1,34.4,34.7,35.0, 35.3,35.9,36.5,37.2,37.8,37.9,38.5,38.8,39.3,39.5, 39.9,40.3,40.8,41.1,41.6,42.0,42.5,42.9,43.1,43.6, 44.0,44.5,45.1,45.8,46.3,46.6,47.2,47.8,48.6,49.4, 49.9,50.2,51.0,52.2,53.1,54.8,55.6,56.4,57.1,58.0, 58.6,60.2,61.5,63.3,65.5,66.3,68.3,69.5,71.0,72.0, 73.5,74.6,76.8,79.0,80.7,81.9,84.5,87.9,91.1,93.0, 94.3,95.6,97.3,99.4,101.4,104.0,105.9,107.6,109.9,111.4, 113.6,115.9,117.7,120.6,121.9,122.8,124.5,126.1,127.3,128.8, 130.1,131.4];
const laDeaths = [0,0,0,0.001,0.002,0.002,0.003,0.004,0.006,0.008, 0.010,0.014,0.020,0.034,0.046,0.065,0.083,0.111,0.119,0.151, 0.185,0.239,0.273,0.310,0.370,0.409,0.477,0.512,0.582,0.652, 0.702,0.755,0.806,0.840,0.884,0.926,1.013,1.103,1.156,1.213, 1.267,1.328,1.405,1.473,1.540,1.601,1.670,1.697,1.758,1.802, 1.845,1.862,1.905,1.969,2.012,2.042,2.094,2.115,2.135,2.169, 2.208,2.242,2.267,2.286,2.315,2.347,2.378,2.417,2.458,2.485, 2.506,2.534,2.563,2.581,2.596,2.608,2.617,2.623,2.634,2.653, 2.690,2.709,2.727,2.757,2.772,2.791,2.803,2.826,2.839,2.862, 2.883,2.903,2.921,2.941,2.957,2.973,2.991,3.006,3.022,3.035, 3.055,3.072,3.090,3.112,3.134,3.145,3.165,3.180,3.197,3.212, 3.231,3.256,3.276,3.295,3.307,3.314,3.326,3.345,3.370,3.394, 3.415,3.435,3.461,3.484,3.497,3.519,3.549,3.574,3.604,3.616, 3.650,3.667,3.704,3.742,3.801,3.830,3.851,3.876,3.900,3.924, 3.944,3.970,3.989,4.012,4.036,4.060,4.083,4.105,4.128,4.145, 4.162,4.180];
const laFatPct = [null,null,null,null,null, 50.0,33.4,50.0,44.0,28.0,36.0,0.0,30.0,31.6,41.4, 27.9,43.5,15.3,10.4,22.7,29.4,14.4,13.7,16.5,10.6, 16.5,7.5,11.9,9.5,7.6,9.0,7.5,5.5,5.4,14.7, 9.0,5.0,5.0,3.0,2.8,4.0,5.8,6.0,8.8,4.0, 3.0,3.1,0.8,2.7,3.2,2.0,3.6,2.7,2.7,2.8, 2.7,1.6,2.5,1.6,1.1,1.8,1.2,1.1,1.4,1.2, 1.2,0.7,1.2,3.0,0.9,1.4,1.0,0.6,0.2,0.8, 0.2,0.9,0.9,0.7,0.2,0.9,2.2,0.2,0.9,0.8, 1.2,0.5,0.9,0.8,0.9,0.8,0.6,0.4,0.2,0.9, 0.8,0.6,0.3,0.8,0.9,0.6,0.8,0.3,0.6,0.8, 0.7,0.2,0.9,0.6,0.3,0.8,0.7,0.3,0.7,0.8, 0.4,0.3,0.7,0.9,0.3,0.6,0.8,0.6,0.3,0.7, 0.2,0.8,0.7,1.2,0.4,0.8,0.3,1.2,1.0,3.7, 0.2,0.8,0.4,0.8,0.7,1.2,0.3,0.8,0.7,0.2, 1.0,1.1,0.9,0.6,1.2,0.2,1.0];
const laCasePct = [null,null,null,null, 13.2,32.3,38.0,31.3,36.0,37.2,25.0,9.9,30.5,18.6, 29.4,28.5,19.2,21.0,6.9,13.8,30.2,14.5,42.6,12.7, 21.5,16.8,4.7,9.7,4.7,7.6,8.5,4.1,3.0,2.1, 3.2,2.7,2.7,2.3,1.5,2.7,1.5,1.9,1.4,1.2, 1.6,1.0,1.6,1.4,0.8,1.0,1.3,1.5,1.2,0.9, 1.4,1.0,0.8,1.3,1.1,0.9,0.7,1.0,1.2,0.8, 1.1,1.0,0.9,1.3,1.0,0.8,1.2,3.5,0.9,0.9, 1.2,1.0,0.8,1.2,1.3,0.9,1.0,1.3,0.9,1.4, 1.2,0.8,1.5,1.1,1.0,1.6,1.2,1.3,1.5,1.1, 3.0,1.4,1.6,1.2,2.1,1.3,1.8,1.5,1.9,1.8, 2.8,1.6,2.4,2.5,2.0,2.8,2.4,2.7,3.7,2.9, 3.2,2.6,3.1,3.0,2.4,3.4,2.8,3.7,2.6,2.8, 2.2,2.9,2.6,2.3,2.5,2.0,2.3,2.4,3.7,2.5, 2.1,3.8,1.8,1.5,1.7,1.4,1.6,1.5,1.3,1.7, 1.6,3.1,1.4,3.1,1.5,1.3,1.2,2.0];
const laFatAvg = [null,null,null,null,null,null,null,null,null,53.0, 47.0,40.1,45.1,38.2,38.0,35.4,43.8,32.6,24.4,24.2, 24.0,18.2,19.7,17.3,14.3,13.5,11.7,10.7,9.8,9.4, 7.9,7.2,7.9,7.7,7.6,7.7,7.6,7.7,7.6,4.6, 4.0,4.4,4.9,5.3,5.1,4.2,3.3,2.5,2.3,2.7, 2.7,2.9,2.7,2.5,2.5,2.3,2.1,1.9,1.9,1.8, 1.6,1.6,1.6,1.8,1.6,1.4,1.4,1.2,1.3,1.2, 1.1,1.0,0.8,0.7,0.7,0.7,0.7,0.8,0.8,0.7, 0.8,0.8,0.7,0.8,0.7,0.7,0.6,0.7,0.7,0.6, 0.6,0.7,0.6,0.6,0.6,0.6,0.5,0.6,0.6,0.6, 0.5,0.5,0.6,0.6,0.5,0.6,0.6,0.7,0.7,0.6, 0.6,0.7,0.7,0.6,0.7,0.7,0.6,0.7,0.7,0.7, 0.6,0.7,0.7,0.7,0.6,0.7,0.7,0.7,0.7,0.7, 0.8,0.8,1.0,1.9,1.7,1.4,1.0,0.8,0.6,0.7, 0.9,0.8,0.8,0.8,0.9,1.0,1.0,0.9,0.9,0.8, 0.9,0.8];
const laCaseAvg = [null,null,null,null,null,null,null,null, 53.0,40.1,47.0,34.7,36.4,29.6,28.1,25.3,26.3,22.1, 19.9,17.8,18.0,20.3,21.0,22.9,25.9,19.5,19.1,13.2, 9.8,7.6,5.3,4.0,3.1,2.9,2.5,2.5,2.5,2.3, 2.2,1.9,1.9,1.8,1.6,1.5,1.4,1.3,1.1,1.0, 1.1,1.2,1.3,1.4,1.3,1.2,1.1,1.0,1.0,1.1, 1.0,0.9,1.0,1.1,1.0,0.9,0.9,1.0,1.1,1.0, 0.9,1.0,1.0,1.1,1.0,0.9,1.0,1.1,1.0,1.0, 1.1,1.0,1.1,1.2,1.1,1.0,1.1,1.2,1.2,1.1, 1.2,1.3,1.2,1.3,1.4,1.4,1.3,1.4,1.5,1.5, 1.6,1.6,1.7,1.6,1.7,1.8,1.8,1.9,1.8,2.0, 2.2,2.3,2.5,2.6,2.7,2.8,2.9,2.9,2.8,2.9, 2.9,2.8,2.9,2.9,2.8,2.7,2.6,2.5,2.5,2.4, 2.3,2.3,2.3,2.4,2.5,2.4,2.3,2.1,1.9,1.7, 1.6,1.5,1.5,1.4,1.4,1.5,1.5,1.5,1.6,1.5, 1.4,1.4,1.5,1.4];

const CASES = [gaCases, ilCases, azCases, njCases, ncCases, laCases];
const DEATHS = [gaDeaths, ilDeaths, azDeaths, njDeaths, ncDeaths, laDeaths];
const FATPCT = [gaFatPct, ilFatPct, azFatPct, njFatPct, ncFatPct, laFatPct];
const CASEPCT = [gaCasePct, ilCasePct, azCasePct, njCasePct, ncCasePct, laCasePct];
const FATAVG = [gaFatAvg, ilFatAvg, azFatAvg, njFatAvg, ncFatAvg, laFatAvg];
const CASEAVG = [gaCaseAvg, ilCaseAvg, azCaseAvg, njCaseAvg, ncCaseAvg, laCaseAvg];

// ---------------- LAYOUT / STYLE ----------------
const LAYOUT = [
  {x0:125.6, pxDay:3.441, yb:499.0,  yt:64.4,   lx:96.6, rx:630,  tx:361,  ty:61},
  {x0:830.0, pxDay:3.425, yb:495.0,  yt:66.6,   lx:800,  rx:1328, tx:1053, ty:67.5},
  {x0:125.6, pxDay:3.618, yb:1039.3, yt:576.6,  lx:96.6, rx:630,  tx:364,  ty:574},
  {x0:816.0, pxDay:3.479, yb:1052.2, yt:585.2,  lx:786,  rx:1331, tx:1092, ty:579},
  {x0:125.6, pxDay:3.243, yb:1639.5, yt:1150.0, lx:96.6, rx:630,  tx:366,  ty:1121},
  {x0:816.0, pxDay:3.232, yb:1642.7, yt:1134.9, lx:786,  rx:1328, tx:1037, ty:1133}
];
const FONT = "'Liberation Sans', Arial, Helvetica, sans-serif";
const TXT = "#595959";
const C_GREEN = "#3DC27B", C_ORANGE = "#ECC690", C_DARK = "#1B3B26", C_GREY = "#8A8A8A",
      C_DARKDOT = "#4F6D5B", C_GREYDOT = "#A6A6A6", C_AXIS = "#D9D9D9";

const svg = d3.select("#chart");
svg.append("rect").attr("width",1384).attr("height",1684).attr("fill","#fff");
const parseDay = d3.timeParse("%Y-%m-%d");
const parseTick = d3.timeParse("%d-%b-%Y");
const fmtComma = d3.format(",");

STATES.forEach((name, i) => {
  const L = LAYOUT[i];
  const cases = CASES[i], deaths = DEATHS[i];
  const n = cases.length;
  const start = parseDay(START[i]);
  const dates = d3.range(n).map(k => d3.timeDay.offset(start, k));
  const x = d3.scaleTime().domain([dates[0], dates[n-1]]).range([L.x0, L.x0 + L.pxDay*(n-1)]);
  const leftMax = d3.max(LEFT_TICKS[i]);
  const yL = d3.scaleLinear().domain([0, leftMax]).range([L.yb, L.yt]);
  const yR = d3.scaleLinear().domain([0, d3.max(RIGHT_TICKS[i])]).range([L.yb, L.yt]);
  const g = svg.append("g").attr("class","panel");

  const clipId = "clip" + i;
  svg.append("defs").append("clipPath").attr("id", clipId).append("rect")
    .attr("x", L.x0 - 20).attr("y", L.yt - 1).attr("width", L.pxDay*n + 40).attr("height", L.yb - L.yt + 2);

  // bars: total cases & total fatalities (clustered)
  const bw = 1.0;
  g.append("g").selectAll("rect").data(cases.map((v,k)=>({v, d:dates[k]}))).join("rect")
    .attr("x", p => x(p.d) + 0.1).attr("width", bw)
    .attr("y", p => yL(p.v*1000)).attr("height", p => L.yb - yL(p.v*1000))
    .attr("fill", C_ORANGE);
  g.append("g").selectAll("rect").data(deaths.map((v,k)=>({v, d:dates[k]}))).join("rect")
    .attr("x", p => x(p.d) - bw - 0.1).attr("width", bw)
    .attr("y", p => yL(p.v*1000)).attr("height", p => L.yb - yL(p.v*1000))
    .attr("fill", C_GREEN);

  // bottom axis
  const tickDates = X_TICKS[i].map(t => parseTick(t + "-2020"));
  const ax = g.append("g").attr("transform", `translate(0,${L.yb})`)
    .call(d3.axisBottom(x).tickValues(tickDates).tickFormat((d,j) => X_TICKS[i][j]).tickSize(7).tickSizeOuter(0));
  ax.select(".domain").attr("stroke", C_AXIS).attr("stroke-width", 1.6)
    .attr("d", `M${L.x0-4},0.5H${L.x0 + L.pxDay*(n-1) + 5}`);
  ax.selectAll(".tick line").attr("stroke", C_AXIS).attr("stroke-width", 1.4);
  ax.attr("font-family", FONT).attr("font-size", 24);
  ax.selectAll(".tick text").attr("fill", TXT).attr("y", 28).attr("dy", "0.36em");

  // left axis
  const axL = g.append("g").attr("transform", `translate(${L.lx},0)`)
    .call(d3.axisLeft(yL).tickValues(LEFT_TICKS[i]).tickFormat(v => v === 0 ? "-" : fmtComma(v)).tickSize(0).tickPadding(0));
  axL.select(".domain").remove();
  axL.attr("font-family", FONT).attr("font-size", 24);
  axL.selectAll(".tick text").attr("fill", TXT).attr("dy", "0.36em")
    .attr("x", v => v === 0 ? -14 : 0);

  // right axis
  const axR = g.append("g").attr("transform", `translate(${L.rx},0)`)
    .call(d3.axisRight(yR).tickValues(RIGHT_TICKS[i]).tickFormat(v => v + "%").tickSize(0).tickPadding(0));
  axR.select(".domain").remove();
  axR.attr("font-family", FONT).attr("font-size", 24);
  axR.selectAll(".tick text").attr("fill", TXT).attr("dy", "0.36em");

  // daily dots
  const dotData = (arr) => arr.map((v,k)=>({v, d:dates[k]})).filter(p => p.v !== null && p.v !== undefined && p.d);
  g.append("g").selectAll("circle").data(dotData(CASEPCT[i])).join("circle")
    .attr("cx", p => x(p.d)).attr("cy", p => yR(Math.min(p.v, d3.max(RIGHT_TICKS[i]))))
    .attr("r", 4.1).attr("fill", C_GREYDOT).attr("fill-opacity", 0.9);
  g.append("g").selectAll("circle").data(dotData(FATPCT[i])).join("circle")
    .attr("cx", p => x(p.d)).attr("cy", p => yR(Math.min(p.v, d3.max(RIGHT_TICKS[i]))))
    .attr("r", 4.1).attr("fill", C_DARKDOT).attr("fill-opacity", 0.9);

  // moving-average lines
  const line = d3.line().defined(p => p.v !== null && p.v !== undefined && p.d)
    .x(p => x(p.d)).y(p => yR(p.v));
  const lg = g.append("g").attr("clip-path", `url(#${clipId})`);
  lg.append("path").datum(CASEAVG[i].map((v,k)=>({v, d:dates[k]})))
    .attr("d", line).attr("fill","none").attr("stroke", C_GREY).attr("stroke-width", 3.3)
    .attr("stroke-linejoin","round").attr("stroke-linecap","round");
  lg.append("path").datum(FATAVG[i].map((v,k)=>({v, d:dates[k]})))
    .attr("d", line).attr("fill","none").attr("stroke", C_DARK).attr("stroke-width", 3.3)
    .attr("stroke-linejoin","round").attr("stroke-linecap","round");

  // title
  g.append("text").attr("x", L.tx).attr("y", L.ty).attr("text-anchor","middle").attr("dy","0.36em")
    .attr("font-family", FONT).attr("font-size", 37).attr("fill", TXT).text(name);
});

// legend
const lg = svg.append("g").attr("font-family", FONT).attr("font-size", 24);
const LEG_POS = [
  {kind:"rect", x0:89, x1:122, tx:133, color:C_GREEN},
  {kind:"rect", x0:392, x1:424, tx:432, color:C_ORANGE},
  {kind:"line", x0:658, x1:692, tx:693, color:C_DARK},
  {kind:"line", x0:987, x1:1021, tx:1022, color:C_GREY}
];
LEGEND.forEach((label, j) => {
  const p = LEG_POS[j];
  if (p.kind === "rect") {
    lg.append("rect").attr("x", p.x0).attr("y", 14).attr("width", p.x1 - p.x0).attr("height", 12).attr("fill", p.color);
  } else {
    lg.append("line").attr("x1", p.x0).attr("x2", p.x1).attr("y1", 20).attr("y2", 20)
      .attr("stroke", p.color).attr("stroke-width", 4);
  }
  lg.append("text").attr("x", p.tx).attr("y", 20).attr("dy","0.36em").attr("fill", TXT).text(label);
});
</script></body></html>
